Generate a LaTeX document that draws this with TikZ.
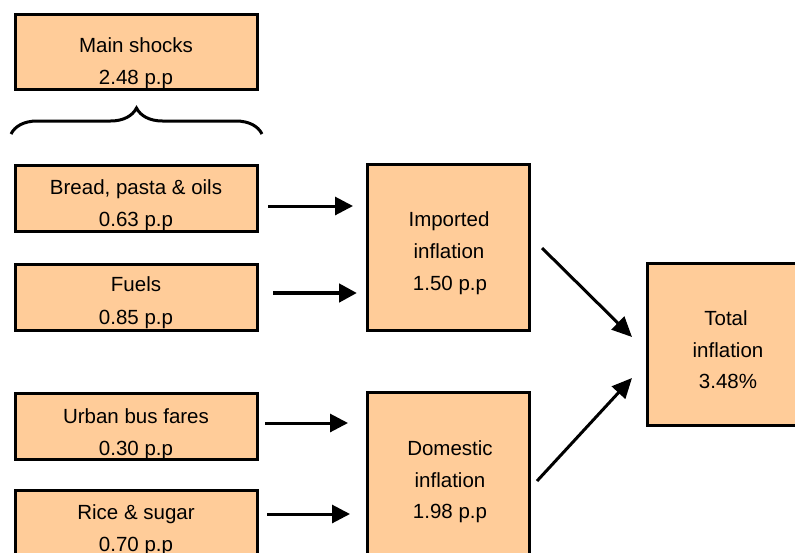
\documentclass[tikz,border=0pt]{standalone}
\usepackage{fontspec}
\setmainfont{Liberation Sans}
\usetikzlibrary{arrows.meta,decorations.pathreplacing}
\definecolor{peach}{RGB}{255,204,153}
\tikzset{
  box/.style={draw=black,line width=3pt,fill=peach,inner sep=0pt,outer sep=0pt},
  txt/.style={anchor=base,inner sep=0pt,font=\fontsize{20.5}{24}\selectfont},
  arr/.style={line width=3pt,-{Triangle[length=18pt,width=18pt]}},
  thickarr/.style={line width=4.5pt,-{Triangle[length=18pt,width=18pt]}},
  diagarr/.style={line width=3pt,-{Triangle[length=20pt,width=18pt]}},
}
\begin{document}
\begin{tikzpicture}[x=1pt,y=-1pt]
\clip (0,0) rectangle (795,552);
\fill[white] (0,0) rectangle (795,552);
% boxes
\node[box,minimum width=242pt,minimum height=75pt] (main) at (136,52) {};
\node[box,minimum width=242pt,minimum height=66pt] (bread) at (136,198) {};
\node[box,minimum width=242pt,minimum height=66pt] (fuels) at (136,297) {};
\node[box,minimum width=242pt,minimum height=66pt] (urban) at (136,426) {};
\node[box,minimum width=242pt,minimum height=80pt] (rice) at (136,530) {};
\node[box,minimum width=162pt,minimum height=166pt] (imported) at (448,247) {};
\node[box,minimum width=162pt,minimum height=180pt] (domestic) at (448,482) {};
\node[box,minimum width=170pt,minimum height=162pt] (total) at (732,344) {};
% texts
\node[txt] (mainA) at (136,52) {Main shocks};
\node[txt] (mainB) at (136,84) {2.48 p.p};
\node[txt] (breadA) at (136,194) {Bread, pasta \& oils};
\node[txt] (breadB) at (136,226) {0.63 p.p};
\node[txt] (fuelsA) at (136,291) {Fuels};
\node[txt] (fuelsB) at (136,324) {0.85 p.p};
\node[txt] (urbanA) at (136,423) {Urban bus fares};
\node[txt] (urbanB) at (136,455) {0.30 p.p};
\node[txt] (riceA) at (136,519) {Rice \& sugar};
\node[txt] (riceB) at (136,551) {0.70 p.p};
\node[txt] (impA) at (449,226) {Imported};
\node[txt] (impB) at (449,258) {inflation};
\node[txt] (impC) at (450,290) {1.50 p.p};
\node[txt] (domA) at (450,455) {Domestic};
\node[txt] (domB) at (450,487) {inflation};
\node[txt] (domC) at (450,518) {1.98 p.p};
\node[txt] (totA) at (726,325) {Total};
\node[txt] (totB) at (728,357) {inflation};
\node[txt] (totC) at (728,388) {3.48\%};
% brace
\coordinate (braceL) at (11,134);
\coordinate (braceR) at (262,134);
\draw[line width=3pt,decorate,decoration={brace,amplitude=26pt}] (braceL) -- (braceR);
% arrow end points
\coordinate (a1s) at (268,206);
\coordinate (a1e) at (353,206);
\coordinate (a2s) at (273,293);
\coordinate (a2e) at (357,293);
\coordinate (a3s) at (265,423);
\coordinate (a3e) at (348,423);
\coordinate (a4s) at (267,514);
\coordinate (a4e) at (350,514);
\coordinate (a5s) at (542,248);
\coordinate (a5e) at (632,337);
\coordinate (a6s) at (537,481);
\coordinate (a6e) at (632,378);
\draw[arr] (a1s) -- (a1e);
\draw[thickarr] (a2s) -- (a2e);
\draw[arr] (a3s) -- (a3e);
\draw[arr] (a4s) -- (a4e);
\draw[diagarr] (a5s) -- (a5e);
\draw[diagarr] (a6s) -- (a6e);
\end{tikzpicture}
\end{document}
